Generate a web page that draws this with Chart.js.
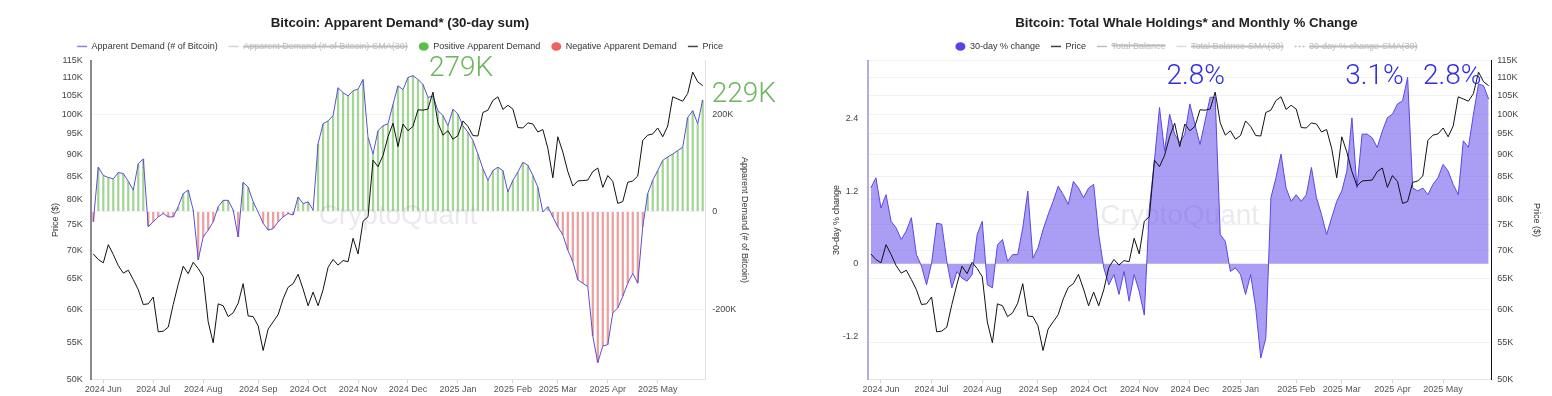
<!DOCTYPE html>
<html>
<head>
<meta charset="utf-8">
<title>Bitcoin demand and whale holdings</title>
<script src="https://cdn.jsdelivr.net/npm/chart.js@4.4.0/dist/chart.umd.min.js"></script>
<style>
  html, body { margin: 0; padding: 0; background: #fff; }
  .wrap { display: flex; width: 1552px; height: 396px; }
  .box { position: relative; width: 776px; height: 396px; }
</style>
</head>
<body>
<div class="wrap">
  <div class="box"><canvas id="demandChart"></canvas></div>
  <div class="box"><canvas id="whaleChart"></canvas></div>
</div>
<script>
// one sample every 3 days, starting 27 May 2024
var startDay = '2024-05-27';
var stepDays = 3;
var monthNames = ['Jan', 'Feb', 'Mar', 'Apr', 'May', 'Jun', 'Jul', 'Aug', 'Sep', 'Oct', 'Nov', 'Dec'];

var priceTicks = [50, 55, 60, 65, 70, 75, 80, 85, 90, 95, 100, 105, 110, 115];
var demandTicks = [-200, 0, 200];
var changeTicks = [-1.2, 0, 1.2, 2.4];

// BTC price, thousands of $
var price = [
  69.4, 68.4, 67.8, 71.1, 69.3, 67.3, 66.0, 66.5, 64.9, 63.2,
  60.8, 60.9, 62.0, 56.6, 56.7, 57.3, 60.8, 64.1, 67.2, 65.9,
  67.9, 66.8, 65.4, 58.1, 55.0, 60.9, 60.6, 58.9, 59.5, 61.0,
  64.2, 59.0, 58.9, 57.5, 53.9, 57.0, 58.1, 59.2, 61.7, 63.6,
  64.2, 65.8, 63.3, 60.6, 62.8, 60.6, 63.2, 67.0, 68.4, 67.4,
  68.2, 68.0, 72.3, 69.4, 75.6, 76.5, 88.7, 87.2, 89.8, 94.3,
  97.7, 91.9, 97.5, 95.8, 96.9, 101.2, 101.1, 101.4, 106.0, 97.8,
  94.7, 95.8, 93.7, 94.6, 98.3, 96.9, 94.6, 94.5, 100.5, 101.1,
  103.7, 104.7, 101.3, 102.4, 101.4, 96.6, 96.5, 97.8, 97.5, 95.5,
  96.1, 91.5, 84.7, 94.3, 90.6, 86.1, 82.9, 84.0, 84.1, 84.2,
  86.1, 86.9, 82.6, 85.2, 83.9, 79.2, 79.6, 83.7, 84.0, 85.1,
  93.4, 94.7, 95.0, 96.5, 94.3, 97.0, 104.7, 104.1, 103.5, 105.6,
  111.7, 108.9, 107.8
];

// apparent demand, 30-day sum, thousands of BTC
var demand = [
  -21, 91, 74, 70, 67, 80, 78, 62, 44, 98,
  108, -31, -21, -11, -4, -11, -11, 10, 37, 44,
  3, -99, -52, -38, -21, 10, 23, 23, 3, -52,
  60, 50, 20, -1, -24, -38, -35, -21, -11, -4,
  -7, 30, 16, 20, 3, 139, 180, 186, 197, 254,
  244, 237, 248, 251, 271, 152, 118, 166, 176, 180,
  220, 258, 250, 275, 279, 271, 261, 234, 237, 207,
  197, 176, 210, 200, 176, 163, 146, 118, 88, 64,
  84, 91, 84, 40, 64, 81, 101, 95, 74, 50,
  -1, 10, -11, -31, -48, -79, -103, -140, -147, -154,
  -256, -310, -276, -273, -208, -198, -174, -147, -127, -147,
  -31, 37, 64, 84, 105, 112, 118, 125, 132, 193,
  207, 180, 229
];

// whale holdings, 30-day % change
var whaleChange = [
  1.25, 1.42, 0.92, 1.14, 0.70, 0.59, 0.40, 0.54, 0.76, 0.15,
  -0.04, -0.35, 0.01, 0.67, 0.65, 0.04, -0.40, -0.13, -0.24, -0.29,
  -0.18, 0.48, 0.70, -0.35, -0.40, 0.31, 0.40, 0.04, 0.15, 0.15,
  0.59, 1.20, 0.09, 0.26, 0.56, 0.81, 1.03, 1.28, 1.14, 0.98,
  1.36, 1.25, 1.09, 1.25, 1.31, 0.48, -0.07, -0.35, -0.18, -0.51,
  -0.13, -0.62, -0.18, -0.46, -0.85, 0.92, 1.70, 2.58, 1.86, 2.47,
  2.14, 2.00, 2.14, 2.64, 2.30, 1.97, 2.36, 2.75, 2.75, 0.48,
  0.37, -0.13, -0.07, -0.18, -0.51, -0.18, -0.73, -1.56, -1.23, 1.09,
  1.42, 1.81, 1.25, 1.03, 1.14, 1.03, 1.14, 1.59, 1.09, 0.81,
  0.48, 0.76, 1.03, 1.20, 1.53, 2.41, 1.25, 2.14, 2.14, 2.08,
  1.92, 2.19, 2.41, 2.47, 2.64, 2.69, 3.08, 1.25, 1.20, 1.25,
  1.14, 1.31, 1.42, 1.64, 1.53, 1.31, 1.14, 2.03, 1.92, 2.47,
  2.97, 2.94, 2.72
];

var demandNotes = ['279K', '229K'];
var demandNoteAt = [64, 122];
var whaleNotes = ['2.8%', '3.1%', '2.8%'];
var whaleNoteAt = [57, 106, 120];

var dates = [];
var day0 = new Date(startDay + 'T00:00:00Z').getTime();
for (var i = 0; i < price.length; i++) {
  dates.push(new Date(day0 + i * stepDays * 86400000).toISOString().slice(0, 10));
}
// first sample of every month gets an x tick
var monthStarts = [];
for (var j = 1; j < dates.length; j++) {
  if (dates[j].slice(0, 7) !== dates[j - 1].slice(0, 7)) monthStarts.push(j);
}

var positive = demand.map(function (v) { return v > 0 ? v : null; });
var negative = demand.map(function (v) { return v < 0 ? v : null; });

Chart.defaults.font.family = "'Liberation Sans', Arial, sans-serif";
Chart.defaults.font.size = 9;
Chart.defaults.color = '#444';

function monthLabel(value) {
  var s = dates[value];
  return s.slice(0, 4) + ' ' + monthNames[parseInt(s.slice(5, 7), 10) - 1];
}

function fixedTicks(list) {
  return function (scale) {
    scale.ticks = list.map(function (v) { return { value: v }; });
  };
}

function kLabel(v) {
  return v === 0 ? '0' : v + 'K';
}

function legendItems(chart) {
  return chart.data.datasets.map(function (ds, i) {
    var hidden = !chart.isDatasetVisible(i);
    return {
      text: ds.label,
      datasetIndex: i,
      hidden: hidden,
      fillStyle: ds.legendColor,
      strokeStyle: ds.legendColor,
      lineWidth: ds.legendDot ? 0 : 1.5,
      lineDash: ds.legendDash || [],
      pointStyle: ds.legendDot ? 'circle' : 'line',
      fontColor: hidden ? '#bdbdbd' : '#333'
    };
  });
}

var legendOpts = {
  position: 'top',
  onClick: function () {},
  labels: {
    usePointStyle: true,
    pointStyleWidth: 10,
    boxHeight: 6,
    padding: 11,
    color: '#333',
    font: { size: 9 },
    generateLabels: legendItems
  }
};

var titleFont = { size: 13.3, weight: 'bold' };

var xAxis = {
  offset: true,
  afterBuildTicks: function (scale) {
    scale.ticks = monthStarts.map(function (k) { return { value: k }; });
  },
  grid: { offset: false, drawOnChartArea: false, tickLength: 4, color: '#d4d4d4' },
  border: { color: '#e6e6e6' },
  ticks: { autoSkip: false, maxRotation: 0, padding: 1, color: '#555', callback: monthLabel }
};

var watermark = {
  id: 'watermark',
  beforeDatasetsDraw: function (chart) {
    var a = chart.chartArea, ctx = chart.ctx;
    ctx.save();
    ctx.font = "28px 'Liberation Sans', Arial, sans-serif";
    ctx.fillStyle = 'rgba(20,20,60,0.09)';
    ctx.textAlign = 'center';
    ctx.textBaseline = 'middle';
    ctx.fillText('CryptoQuant', (a.left + a.right) / 2, (a.top + a.bottom) / 2 - 4);
    ctx.restore();
  }
};

new Chart(document.getElementById('demandChart'), {
  type: 'bar',
  data: {
    labels: dates,
    datasets: [
      { type: 'line', label: 'Apparent Demand (# of Bitcoin)', data: demand, yAxisID: 'yD',
        borderColor: '#5b4ed6', borderWidth: 1, pointRadius: 0, order: 1, legendColor: '#8c80dc' },
      { type: 'line', label: 'Apparent Demand (# of Bitcoin)-SMA(30)', data: [], yAxisID: 'yD',
        hidden: true, legendColor: '#d6d6d6' },
      { label: 'Positive Apparent Demand', data: positive, yAxisID: 'yD', grouped: false,
        backgroundColor: 'rgba(100,185,80,0.6)', barPercentage: 0.45, categoryPercentage: 1,
        order: 2, legendColor: '#5cbf4a', legendDot: true },
      { label: 'Negative Apparent Demand', data: negative, yAxisID: 'yD', grouped: false,
        backgroundColor: 'rgba(225,95,95,0.6)', barPercentage: 0.45, categoryPercentage: 1,
        order: 2, legendColor: '#ee6262', legendDot: true },
      { type: 'line', label: 'Price', data: price, yAxisID: 'yP',
        borderColor: '#111', borderWidth: 1, pointRadius: 0, order: 0, legendColor: '#444' }
    ]
  },
  options: {
    responsive: true,
    maintainAspectRatio: false,
    animation: false,
    layout: { padding: { left: 48, right: 24, top: 1 } },
    plugins: {
      title: {
        display: true,
        text: 'Bitcoin: Apparent Demand* (30-day sum)',
        color: '#222',
        font: titleFont,
        padding: { top: 14, bottom: 0 }
      },
      legend: legendOpts,
      tooltip: { enabled: false }
    },
    scales: {
      x: xAxis,
      yP: {
        type: 'logarithmic',
        position: 'left',
        min: 50,
        max: 115,
        afterBuildTicks: fixedTicks(priceTicks),
        grid: { display: false, drawTicks: false },
        border: { color: '#8a8a8a', width: 2 },
        ticks: { padding: 8, callback: kLabel },
        title: { display: true, text: 'Price ($)', color: '#333', padding: { top: 2, bottom: -7 } }
      },
      yD: {
        position: 'right',
        min: -344,
        max: 309,
        afterBuildTicks: fixedTicks(demandTicks),
        grid: { color: '#f2f2f2', drawTicks: false },
        border: { color: '#e2e2e2' },
        ticks: { padding: 7, callback: kLabel },
        title: { display: true, text: 'Apparent Demand (# of Bitcoin)', color: '#333', padding: { top: 2, bottom: -4 } }
      }
    }
  },
  plugins: [watermark, {
    id: 'demandNotes',
    afterDatasetsDraw: function (chart) {
      var ctx = chart.ctx, x = chart.scales.x, y = chart.scales.yD;
      ctx.save();
      ctx.font = "300 28px Roboto, sans-serif";
      ctx.fillStyle = '#6cb65c';
      ctx.textAlign = 'left';
      ctx.textBaseline = 'alphabetic';
      // peak label right of the top, latest value past the end of the line
      ctx.fillText(demandNotes[0], x.getPixelForValue(demandNoteAt[0]) + 16, y.getPixelForValue(demand[demandNoteAt[0]]));
      ctx.fillText(demandNotes[1], x.getPixelForValue(demandNoteAt[1]) + 9, y.getPixelForValue(demand[demandNoteAt[1]]) + 2);
      ctx.restore();
    }
  }]
});

new Chart(document.getElementById('whaleChart'), {
  type: 'line',
  data: {
    labels: dates,
    datasets: [
      { label: '30-day % change', data: whaleChange, yAxisID: 'yC', fill: 'origin',
        borderColor: '#5a47e4', borderWidth: 1, backgroundColor: 'rgba(112,92,236,0.6)',
        pointRadius: 0, order: 1, legendColor: '#5544e6', legendDot: true },
      { label: 'Price', data: price, yAxisID: 'yP',
        borderColor: '#111', borderWidth: 1, pointRadius: 0, order: 0, legendColor: '#444' },
      { label: 'Total Balance', data: [], yAxisID: 'yP', hidden: true, legendColor: '#bdbdbd' },
      { label: 'Total Balance-SMA(30)', data: [], yAxisID: 'yP', hidden: true, legendColor: '#dcdcdc' },
      { label: '30-day % change-SMA(30)', data: [], yAxisID: 'yC', hidden: true,
        legendColor: '#bdbdbd', legendDash: [2, 2] }
    ]
  },
  options: {
    responsive: true,
    maintainAspectRatio: false,
    animation: false,
    layout: { padding: { left: 53, right: 8, top: 1 } },
    plugins: {
      title: {
        display: true,
        text: 'Bitcoin: Total Whale Holdings* and Monthly % Change',
        color: '#222',
        font: titleFont,
        padding: { top: 14, bottom: 0 }
      },
      legend: legendOpts,
      tooltip: { enabled: false }
    },
    scales: {
      x: xAxis,
      yC: {
        position: 'left',
        min: -1.91,
        max: 3.35,
        afterBuildTicks: fixedTicks(changeTicks),
        grid: { display: false, drawTicks: false },
        border: { color: '#b4abdf', width: 2 },
        ticks: { padding: 10, callback: function (v) { return String(v); } },
        title: { display: true, text: '30-day % change', color: '#333', padding: { top: 2, bottom: -9 } }
      },
      yP: {
        type: 'logarithmic',
        position: 'right',
        min: 50,
        max: 115,
        afterBuildTicks: fixedTicks(priceTicks),
        grid: { color: '#f1f1f1', drawTicks: false },
        border: { color: '#111', width: 1 },
        ticks: { padding: 6, callback: kLabel },
        title: { display: true, text: 'Price ($)', color: '#333', padding: { top: 2, bottom: 7 } }
      }
    }
  },
  plugins: [watermark, {
    id: 'whaleNotes',
    afterDatasetsDraw: function (chart) {
      var ctx = chart.ctx, x = chart.scales.x;
      var base = chart.chartArea.top + 23;
      ctx.save();
      ctx.font = "300 28px Roboto, sans-serif";
      ctx.fillStyle = '#2d2ee6';
      ctx.textBaseline = 'alphabetic';
      ctx.textAlign = 'left';
      ctx.fillText(whaleNotes[0], x.getPixelForValue(whaleNoteAt[0]) + 7, base);
      ctx.textAlign = 'right';
      ctx.fillText(whaleNotes[1], x.getPixelForValue(whaleNoteAt[1]) - 4, base);
      ctx.fillText(whaleNotes[2], x.getPixelForValue(whaleNoteAt[2]) + 3, base);
      ctx.restore();
    }
  }]
});
</script>
</body>
</html>
